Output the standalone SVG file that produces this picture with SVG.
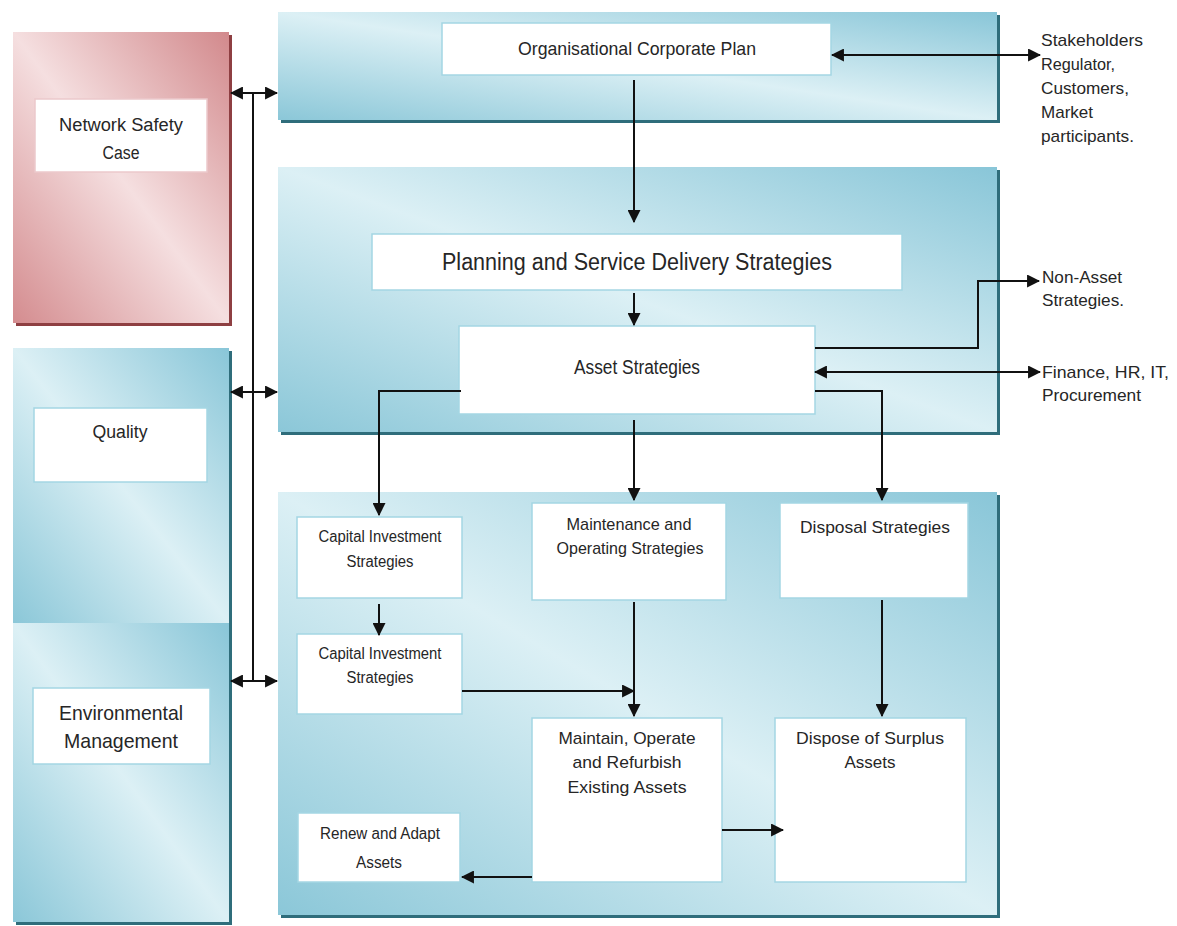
<svg xmlns="http://www.w3.org/2000/svg" width="1177" height="926" viewBox="0 0 1177 926">
<style>
.t{font-family:"Liberation Sans",Arial,sans-serif;fill:#262626;text-anchor:middle}
.l{font-family:"Liberation Sans",Arial,sans-serif;fill:#262626;font-size:17px}
.box{fill:#ffffff;stroke:#a4d6e3;stroke-width:1.5}
.rbox{fill:#ffffff;stroke:#ecc9cb;stroke-width:1.5}
.ts{fill:#2f6d7b}
.rs{fill:#8e3f42}
.c{fill:none;stroke:#111;stroke-width:2}
</style>
<defs>
<linearGradient id="gt" x1="1" y1="0" x2="0" y2="1">
<stop offset="0" stop-color="#89c6d8"/>
<stop offset="0.5" stop-color="#dcf0f5"/>
<stop offset="1" stop-color="#8bc7d8"/>
</linearGradient>
<linearGradient id="gr" x1="1" y1="0" x2="0" y2="1">
<stop offset="0" stop-color="#d2898c"/>
<stop offset="0.5" stop-color="#f5dfe0"/>
<stop offset="1" stop-color="#d48c8f"/>
</linearGradient>
<marker id="ah" viewBox="0 0 12 12" refX="11" refY="6" markerWidth="13" markerHeight="13" markerUnits="userSpaceOnUse" orient="auto-start-reverse">
<path d="M0,0 L12,6 L0,12 z" fill="#111"/>
</marker>
</defs>

<g id="panel-network-safety">
<rect class="rs" x="16" y="35" width="216" height="291"/>
<rect x="13" y="32" width="216" height="291" fill="url(#gr)"/>
</g>
<g id="panel-quality">
<rect class="ts" x="16" y="351" width="216" height="275"/>
<rect x="13" y="348" width="216" height="275" fill="url(#gt)"/>
</g>
<g id="panel-environmental">
<rect class="ts" x="16" y="626" width="216" height="299"/>
<rect x="13" y="623" width="216" height="299" fill="url(#gt)"/>
</g>
<g id="panel-corporate">
<rect class="ts" x="281" y="15" width="719" height="108"/>
<rect x="278" y="12" width="719" height="108" fill="url(#gt)"/>
</g>
<g id="panel-strategy">
<rect class="ts" x="281" y="170" width="719" height="265"/>
<rect x="278" y="167" width="719" height="265" fill="url(#gt)"/>
</g>
<g id="panel-delivery">
<rect class="ts" x="281" y="495" width="719" height="423"/>
<rect x="278" y="492" width="719" height="423" fill="url(#gt)"/>
</g>

<g id="node-network-safety-case">
<rect class="rbox" x="35" y="99" width="172" height="73"/>
<text class="t" font-size="18" x="121" y="131" textLength="124" lengthAdjust="spacingAndGlyphs">Network Safety</text>
<text class="t" font-size="18" x="121" y="159" textLength="37" lengthAdjust="spacingAndGlyphs">Case</text>
</g>
<g id="node-quality">
<rect class="box" x="34" y="408" width="173" height="74"/>
<text class="t" font-size="18" x="120" y="438" textLength="55" lengthAdjust="spacingAndGlyphs">Quality</text>
</g>
<g id="node-environmental">
<rect class="box" x="33" y="688" width="177" height="76"/>
<text class="t" font-size="21" x="121" y="720" textLength="124" lengthAdjust="spacingAndGlyphs">Environmental</text>
<text class="t" font-size="21" x="121" y="748" textLength="114" lengthAdjust="spacingAndGlyphs">Management</text>
</g>
<g id="node-corporate-plan">
<rect class="box" x="442" y="23" width="389" height="52"/>
<text class="t" font-size="19" x="637" y="55" textLength="238" lengthAdjust="spacingAndGlyphs">Organisational Corporate Plan</text>
</g>
<g id="node-stakeholders">
<text class="l" x="1041" y="46" textLength="102" lengthAdjust="spacingAndGlyphs">Stakeholders</text>
<text class="l" x="1041" y="70" textLength="74" lengthAdjust="spacingAndGlyphs">Regulator,</text>
<text class="l" x="1041" y="94" textLength="88" lengthAdjust="spacingAndGlyphs">Customers,</text>
<text class="l" x="1041" y="118" textLength="52" lengthAdjust="spacingAndGlyphs">Market</text>
<text class="l" x="1041" y="142" textLength="93" lengthAdjust="spacingAndGlyphs">participants.</text>
</g>
<g id="node-planning">
<rect class="box" x="372" y="234" width="530" height="56"/>
<text class="t" font-size="23" x="637" y="270" textLength="390" lengthAdjust="spacingAndGlyphs">Planning and Service Delivery Strategies</text>
</g>
<g id="node-asset-strategies">
<rect class="box" x="459" y="326" width="356" height="88"/>
<text class="t" font-size="20" x="637" y="374" textLength="126" lengthAdjust="spacingAndGlyphs">Asset Strategies</text>
</g>
<g id="node-non-asset">
<text class="l" x="1042" y="283" textLength="80" lengthAdjust="spacingAndGlyphs">Non-Asset</text>
<text class="l" x="1042" y="306" textLength="82" lengthAdjust="spacingAndGlyphs">Strategies.</text>
</g>
<g id="node-finance">
<text class="l" x="1042" y="378" textLength="127" lengthAdjust="spacingAndGlyphs">Finance, HR, IT,</text>
<text class="l" x="1042" y="401" textLength="99" lengthAdjust="spacingAndGlyphs">Procurement</text>
</g>
<g id="node-capital-1">
<rect class="box" x="297" y="517" width="165" height="81"/>
<text class="t" font-size="16" x="380" y="542" textLength="123" lengthAdjust="spacingAndGlyphs">Capital Investment</text>
<text class="t" font-size="16" x="380" y="567" textLength="67" lengthAdjust="spacingAndGlyphs">Strategies</text>
</g>
<g id="node-capital-2">
<rect class="box" x="297" y="634" width="165" height="80"/>
<text class="t" font-size="16" x="380" y="659" textLength="123" lengthAdjust="spacingAndGlyphs">Capital Investment</text>
<text class="t" font-size="16" x="380" y="683" textLength="67" lengthAdjust="spacingAndGlyphs">Strategies</text>
</g>
<g id="node-maintenance">
<rect class="box" x="532" y="503" width="194" height="97"/>
<text class="t" font-size="17" x="629" y="530" textLength="125" lengthAdjust="spacingAndGlyphs">Maintenance and</text>
<text class="t" font-size="17" x="630" y="554" textLength="147" lengthAdjust="spacingAndGlyphs">Operating Strategies</text>
</g>
<g id="node-disposal">
<rect class="box" x="780" y="503" width="188" height="95"/>
<text class="t" font-size="17" x="875" y="533" textLength="150" lengthAdjust="spacingAndGlyphs">Disposal Strategies</text>
</g>
<g id="node-maintain">
<rect class="box" x="532" y="718" width="190" height="164"/>
<text class="t" font-size="17" x="627" y="744" textLength="137" lengthAdjust="spacingAndGlyphs">Maintain, Operate</text>
<text class="t" font-size="17" x="627" y="768" textLength="109" lengthAdjust="spacingAndGlyphs">and Refurbish</text>
<text class="t" font-size="17" x="627" y="793" textLength="119" lengthAdjust="spacingAndGlyphs">Existing Assets</text>
</g>
<g id="node-dispose">
<rect class="box" x="775" y="718" width="191" height="164"/>
<text class="t" font-size="17" x="870" y="744" textLength="148" lengthAdjust="spacingAndGlyphs">Dispose of Surplus</text>
<text class="t" font-size="17" x="870" y="768" textLength="51" lengthAdjust="spacingAndGlyphs">Assets</text>
</g>
<g id="node-renew">
<rect class="box" x="298" y="813" width="162" height="69"/>
<text class="t" font-size="16" x="380" y="839" textLength="120" lengthAdjust="spacingAndGlyphs">Renew and Adapt</text>
<text class="t" font-size="16" x="379" y="868" textLength="46" lengthAdjust="spacingAndGlyphs">Assets</text>
</g>

<g id="connectors">
<line class="c" x1="253" y1="93" x2="253" y2="681"/>
<line class="c" x1="231" y1="93" x2="277" y2="93" marker-start="url(#ah)" marker-end="url(#ah)"/>
<line class="c" x1="231" y1="392" x2="277" y2="392" marker-start="url(#ah)" marker-end="url(#ah)"/>
<line class="c" x1="231" y1="681" x2="277" y2="681" marker-start="url(#ah)" marker-end="url(#ah)"/>
<line class="c" x1="634" y1="80" x2="634" y2="222" marker-end="url(#ah)"/>
<line class="c" x1="832" y1="55" x2="1040" y2="55" marker-start="url(#ah)" marker-end="url(#ah)"/>
<line class="c" x1="634" y1="293" x2="634" y2="325" marker-end="url(#ah)"/>
<polyline class="c" points="815,348 978,348 978,281 1039,281" marker-end="url(#ah)"/>
<line class="c" x1="815" y1="372" x2="1040" y2="372" marker-start="url(#ah)" marker-end="url(#ah)"/>
<polyline class="c" points="815,391 882,391 882,500" marker-end="url(#ah)"/>
<polyline class="c" points="461,391 379,391 379,515" marker-end="url(#ah)"/>
<line class="c" x1="634" y1="420" x2="634" y2="500" marker-end="url(#ah)"/>
<line class="c" x1="379" y1="604" x2="379" y2="635" marker-end="url(#ah)"/>
<line class="c" x1="462" y1="691" x2="634" y2="691" marker-end="url(#ah)"/>
<line class="c" x1="634" y1="602" x2="634" y2="716" marker-end="url(#ah)"/>
<line class="c" x1="882" y1="600" x2="882" y2="716" marker-end="url(#ah)"/>
<line class="c" x1="722" y1="830" x2="783" y2="830" marker-end="url(#ah)"/>
<line class="c" x1="532" y1="877" x2="462" y2="877" marker-end="url(#ah)"/>
</g>
</svg>
